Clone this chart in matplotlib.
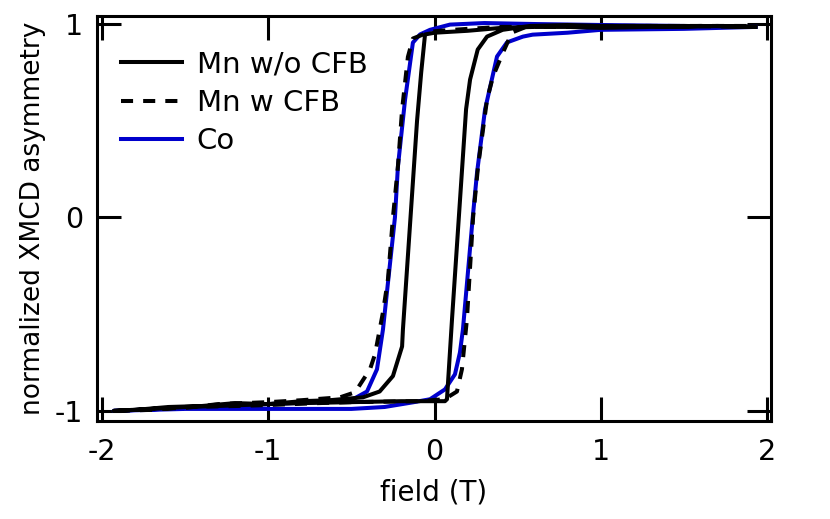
import matplotlib
matplotlib.use("Agg")
import matplotlib.pyplot as plt

plt.rcParams['font.family'] = ['DejaVu Sans']
plt.rcParams['axes.unicode_minus'] = False

# Mn w/o CFB (solid black)
mn_wo_desc_x = [1.93, 1.6, 1.3, 1.0, 0.8, 0.6, 0.4, 0.2, 0.0, -0.057, -0.08, -0.105, -0.19, -0.195, -0.25, -0.33, -0.43, -0.63, -0.8, -1.0, -1.2, -1.4, -1.6, -1.8, -1.93]
mn_wo_desc_y = [0.985, 0.99, 0.985, 0.98, 0.985, 0.985, 0.98, 0.965, 0.955, 0.946, 0.75, 0.5, -0.58, -0.667, -0.82, -0.9, -0.93, -0.945, -0.95, -0.965, -0.96, -0.975, -0.98, -0.995, -1.0]
mn_wo_asc_x = [-1.93, -1.7, -1.5, -1.3, -1.0, -0.8, -0.5, -0.2, 0.063, 0.075, 0.105, 0.19, 0.214, 0.26, 0.316, 0.41, 0.574, 0.8, 1.0, 1.3, 1.5, 1.7, 1.93]
mn_wo_asc_y = [-1.0, -0.99, -0.98, -0.975, -0.965, -0.96, -0.955, -0.95, -0.95, -0.94, -0.53, 0.56, 0.713, 0.868, 0.935, 0.97, 0.99, 0.995, 0.99, 0.99, 0.985, 0.99, 0.985]

# Mn w CFB (dashed black)
mn_w_desc_x = [1.93, 1.5, 1.0, 0.7, 0.4, 0.2, 0.03, -0.027, -0.13, -0.16, -0.195, -0.22, -0.25, -0.28, -0.31, -0.358, -0.388, -0.478, -0.568, -0.8, -1.0, -1.3, -1.5, -1.7, -1.93]
mn_w_desc_y = [0.985, 0.99, 0.985, 0.985, 0.985, 0.975, 0.965, 0.96, 0.925, 0.83, 0.558, 0.264, 0.0, -0.32, -0.49, -0.708, -0.785, -0.904, -0.93, -0.945, -0.955, -0.965, -0.985, -0.99, -1.0]
mn_w_asc_x = [-1.93, -1.7, -1.5, -1.2, -1.0, -0.7, -0.5, -0.1, 0.06, 0.135, 0.165, 0.195, 0.232, 0.262, 0.316, 0.352, 0.412, 0.466, 0.55, 0.8, 1.0, 1.5, 1.93]
mn_w_asc_y = [-1.0, -0.995, -0.98, -0.975, -0.97, -0.96, -0.955, -0.95, -0.94, -0.9, -0.785, -0.527, 0.0, 0.264, 0.61, 0.729, 0.853, 0.956, 0.985, 0.99, 0.99, 0.99, 0.99]

# Co (blue)
co_desc_x = [1.93, 1.5, 1.0, 0.6, 0.3, 0.093, -0.027, -0.087, -0.13, -0.177, -0.22, -0.238, -0.31, -0.346, -0.406, -0.49, -0.7, -1.0, -1.5, -1.93]
co_desc_y = [0.985, 0.99, 0.995, 1.0, 1.005, 0.997, 0.97, 0.946, 0.904, 0.61, 0.264, 0.0, -0.579, -0.785, -0.9, -0.94, -0.955, -0.965, -0.985, -1.0]
co_asc_x = [-1.93, -1.5, -1.0, -0.5, -0.3, -0.13, -0.027, 0.063, 0.123, 0.153, 0.171, 0.23, 0.256, 0.304, 0.376, 0.436, 0.532, 0.59, 0.8, 1.0, 1.5, 1.93]
co_asc_y = [-1.0, -0.99, -0.99, -0.99, -0.98, -0.956, -0.94, -0.889, -0.811, -0.698, -0.579, 0.0, 0.233, 0.558, 0.832, 0.905, 0.935, 0.945, 0.955, 0.97, 0.975, 0.985]

xticks = [-2, -1, 0, 1, 2]
yticks = [-1, 0, 1]
xlabel = "field (T)"
ylabel = "normalized XMCD asymmetry"
labels = ["Mn w/o CFB", "Mn w CFB", "Co"]

fig = plt.figure(figsize=(8.30, 5.19), dpi=100)
ax = fig.add_axes([0.1169, 0.189, 0.812, 0.780])

lw = 2.9
ax.plot(co_desc_x + co_asc_x, co_desc_y + co_asc_y, color='#0000CC', lw=lw, label=labels[2], zorder=2)
ax.plot(mn_wo_desc_x + mn_wo_asc_x, mn_wo_desc_y + mn_wo_asc_y, color='black', lw=lw, label=labels[0], zorder=3)
ax.plot(mn_w_desc_x + mn_w_asc_x, mn_w_desc_y + mn_w_asc_y, color='black', lw=lw, ls=(0, (3.0, 2.5)), label=labels[1], zorder=3)

ax.set_xlim(-2.03, 2.024)
ax.set_ylim(-1.052, 1.041)
ax.set_xticks(xticks)
ax.set_yticks(yticks)
ax.set_xticklabels([str(t) for t in xticks])
ax.set_yticklabels([str(t) for t in yticks])
ax.tick_params(direction='in', length=17, width=2.2, top=True, right=True, labelsize=20.5)
ax.tick_params(axis='x', pad=12)
ax.tick_params(axis='y', pad=10)
for s in ax.spines.values():
    s.set_linewidth(2.2)

ax.set_xlabel(xlabel, fontsize=20, labelpad=9)
ax.set_ylabel(ylabel, fontsize=19, labelpad=6)

h, l = ax.get_legend_handles_labels()
order = [1, 2, 0]
ax.legend([h[i] for i in order], [l[i] for i in order], loc='upper left', frameon=False,
          fontsize=21, handlelength=2.1, handletextpad=0.5, labelspacing=0.35,
          bbox_to_anchor=(0.005, 0.965), borderaxespad=0.3)

fig.savefig("out.png", dpi=100)
